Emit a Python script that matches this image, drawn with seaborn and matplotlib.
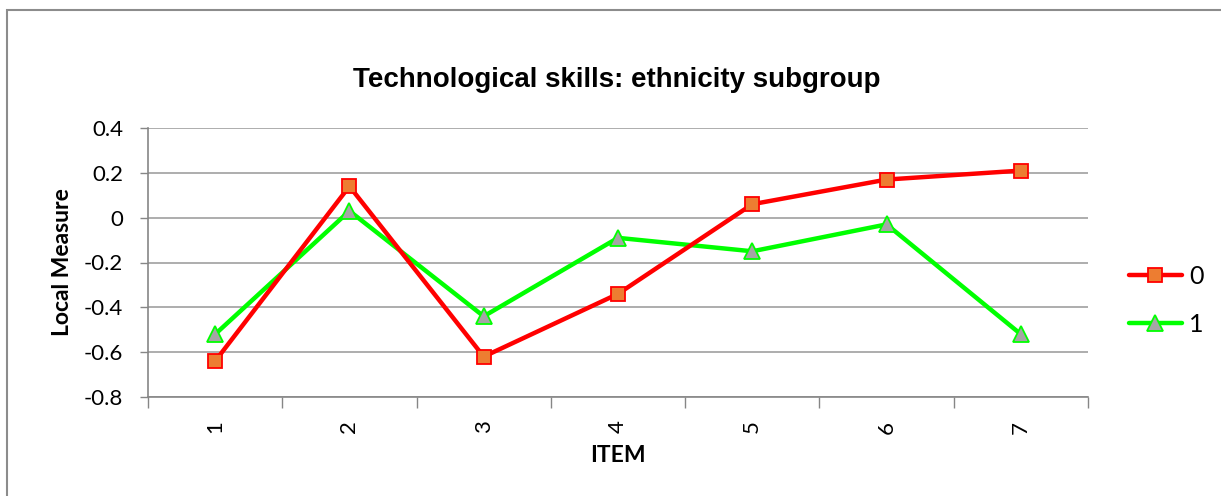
import matplotlib
matplotlib.use("Agg")
import matplotlib.pyplot as plt
from matplotlib.patches import Rectangle
from matplotlib.ticker import FixedLocator
import seaborn as sns
import pandas as pd

# Item numbers and the local measure for each ethnicity subgroup
items = ["1", "2", "3", "4", "5", "6", "7"]
group_0 = [-0.64, 0.14, -0.62, -0.34, 0.06, 0.17, 0.21]
group_1 = [-0.52, 0.03, -0.44, -0.09, -0.15, -0.03, -0.52]
y_ticks = [0.4, 0.2, 0, -0.2, -0.4, -0.6, -0.8]
y_tick_labels = ["0.4", "0.2", "0", "-0.2", "-0.4", "-0.6", "-0.8"]

sns.set_theme(style="white")
plt.rcParams["font.family"] = ["Lato", "DejaVu Sans"]
plt.rcParams["text.color"] = "black"
plt.rcParams["axes.labelcolor"] = "black"
plt.rcParams["xtick.color"] = "black"
plt.rcParams["ytick.color"] = "black"

fig = plt.figure(figsize=(12.21, 4.96), dpi=100)
ax = fig.add_axes([148 / 1221, 1 - 397 / 496, (1088 - 148) / 1221, (397 - 128) / 496])

pos = list(range(len(items)))
df0 = pd.DataFrame({"pos": pos, "value": group_0})
df1 = pd.DataFrame({"pos": pos, "value": group_1})

sns.lineplot(data=df0, x="pos", y="value", ax=ax, color="#FF0000", lw=3.2,
             marker="s", markersize=10, markerfacecolor="#ED7D31",
             markeredgecolor="#FF0000", markeredgewidth=1.3, label="0", zorder=4)
sns.lineplot(data=df1, x="pos", y="value", ax=ax, color="#00FF00", lw=3.2,
             marker="^", markersize=11, markerfacecolor="#A5A5A5",
             markeredgecolor="#00FF00", markeredgewidth=1.3, label="1", zorder=3)

ax.set_xlim(-0.5, len(items) - 0.5)
ax.set_ylim(-0.8, 0.4)
ax.set_xticks(pos)
ax.set_xticklabels(items, rotation=90, fontsize=16)
ax.xaxis.set_minor_locator(FixedLocator([p - 0.5 for p in range(len(items) + 1)]))
ax.tick_params(axis="x", which="major", length=0, pad=17, labelcolor="black")
ax.tick_params(axis="x", which="minor", length=8, width=1, color="#868686", direction="out", bottom=True)
ax.set_yticks(y_ticks)
ax.set_yticklabels(y_tick_labels, fontsize=16)
ax.tick_params(axis="y", length=6, width=1, color="#868686", direction="out", left=True, pad=12,
               labelcolor="black")

ax.grid(axis="y", color="#A0A0A0", lw=1.2)
ax.set_axisbelow(True)
for side in ["top", "right"]:
    ax.spines[side].set_visible(False)
for side in ["left", "bottom"]:
    ax.spines[side].set_color("#868686")
    ax.spines[side].set_linewidth(1.2)

ax.set_xlabel("ITEM", fontsize=16.5, fontweight="bold", labelpad=8, color="black")
ax.set_ylabel("Local Measure", fontsize=16.5, fontweight="bold", labelpad=8, color="black")

fig.text(617 / 1221, 1 - 80 / 496, "Technological skills: ethnicity subgroup",
         ha="center", va="center", fontsize=20, fontweight="bold", color="black",
         family=["Liberation Sans", "DejaVu Sans"])

leg = ax.legend(loc="center left", bbox_to_anchor=(1129 / 1221, 1 - 300 / 496),
                bbox_transform=fig.transFigure, frameon=False, fontsize=18,
                handlelength=2.1, labelspacing=1.0, handletextpad=0.3,
                borderpad=0, borderaxespad=0)
for t in leg.get_texts():
    t.set_color("black")

# chart area frame
fig.add_artist(Rectangle((7 / 1221, -0.2), 1.2, 1.2 - 10 / 496,
                         transform=fig.transFigure, fill=False,
                         edgecolor="#8C8C8C", lw=1.5, zorder=10))

fig.savefig("out.png", dpi=100)
